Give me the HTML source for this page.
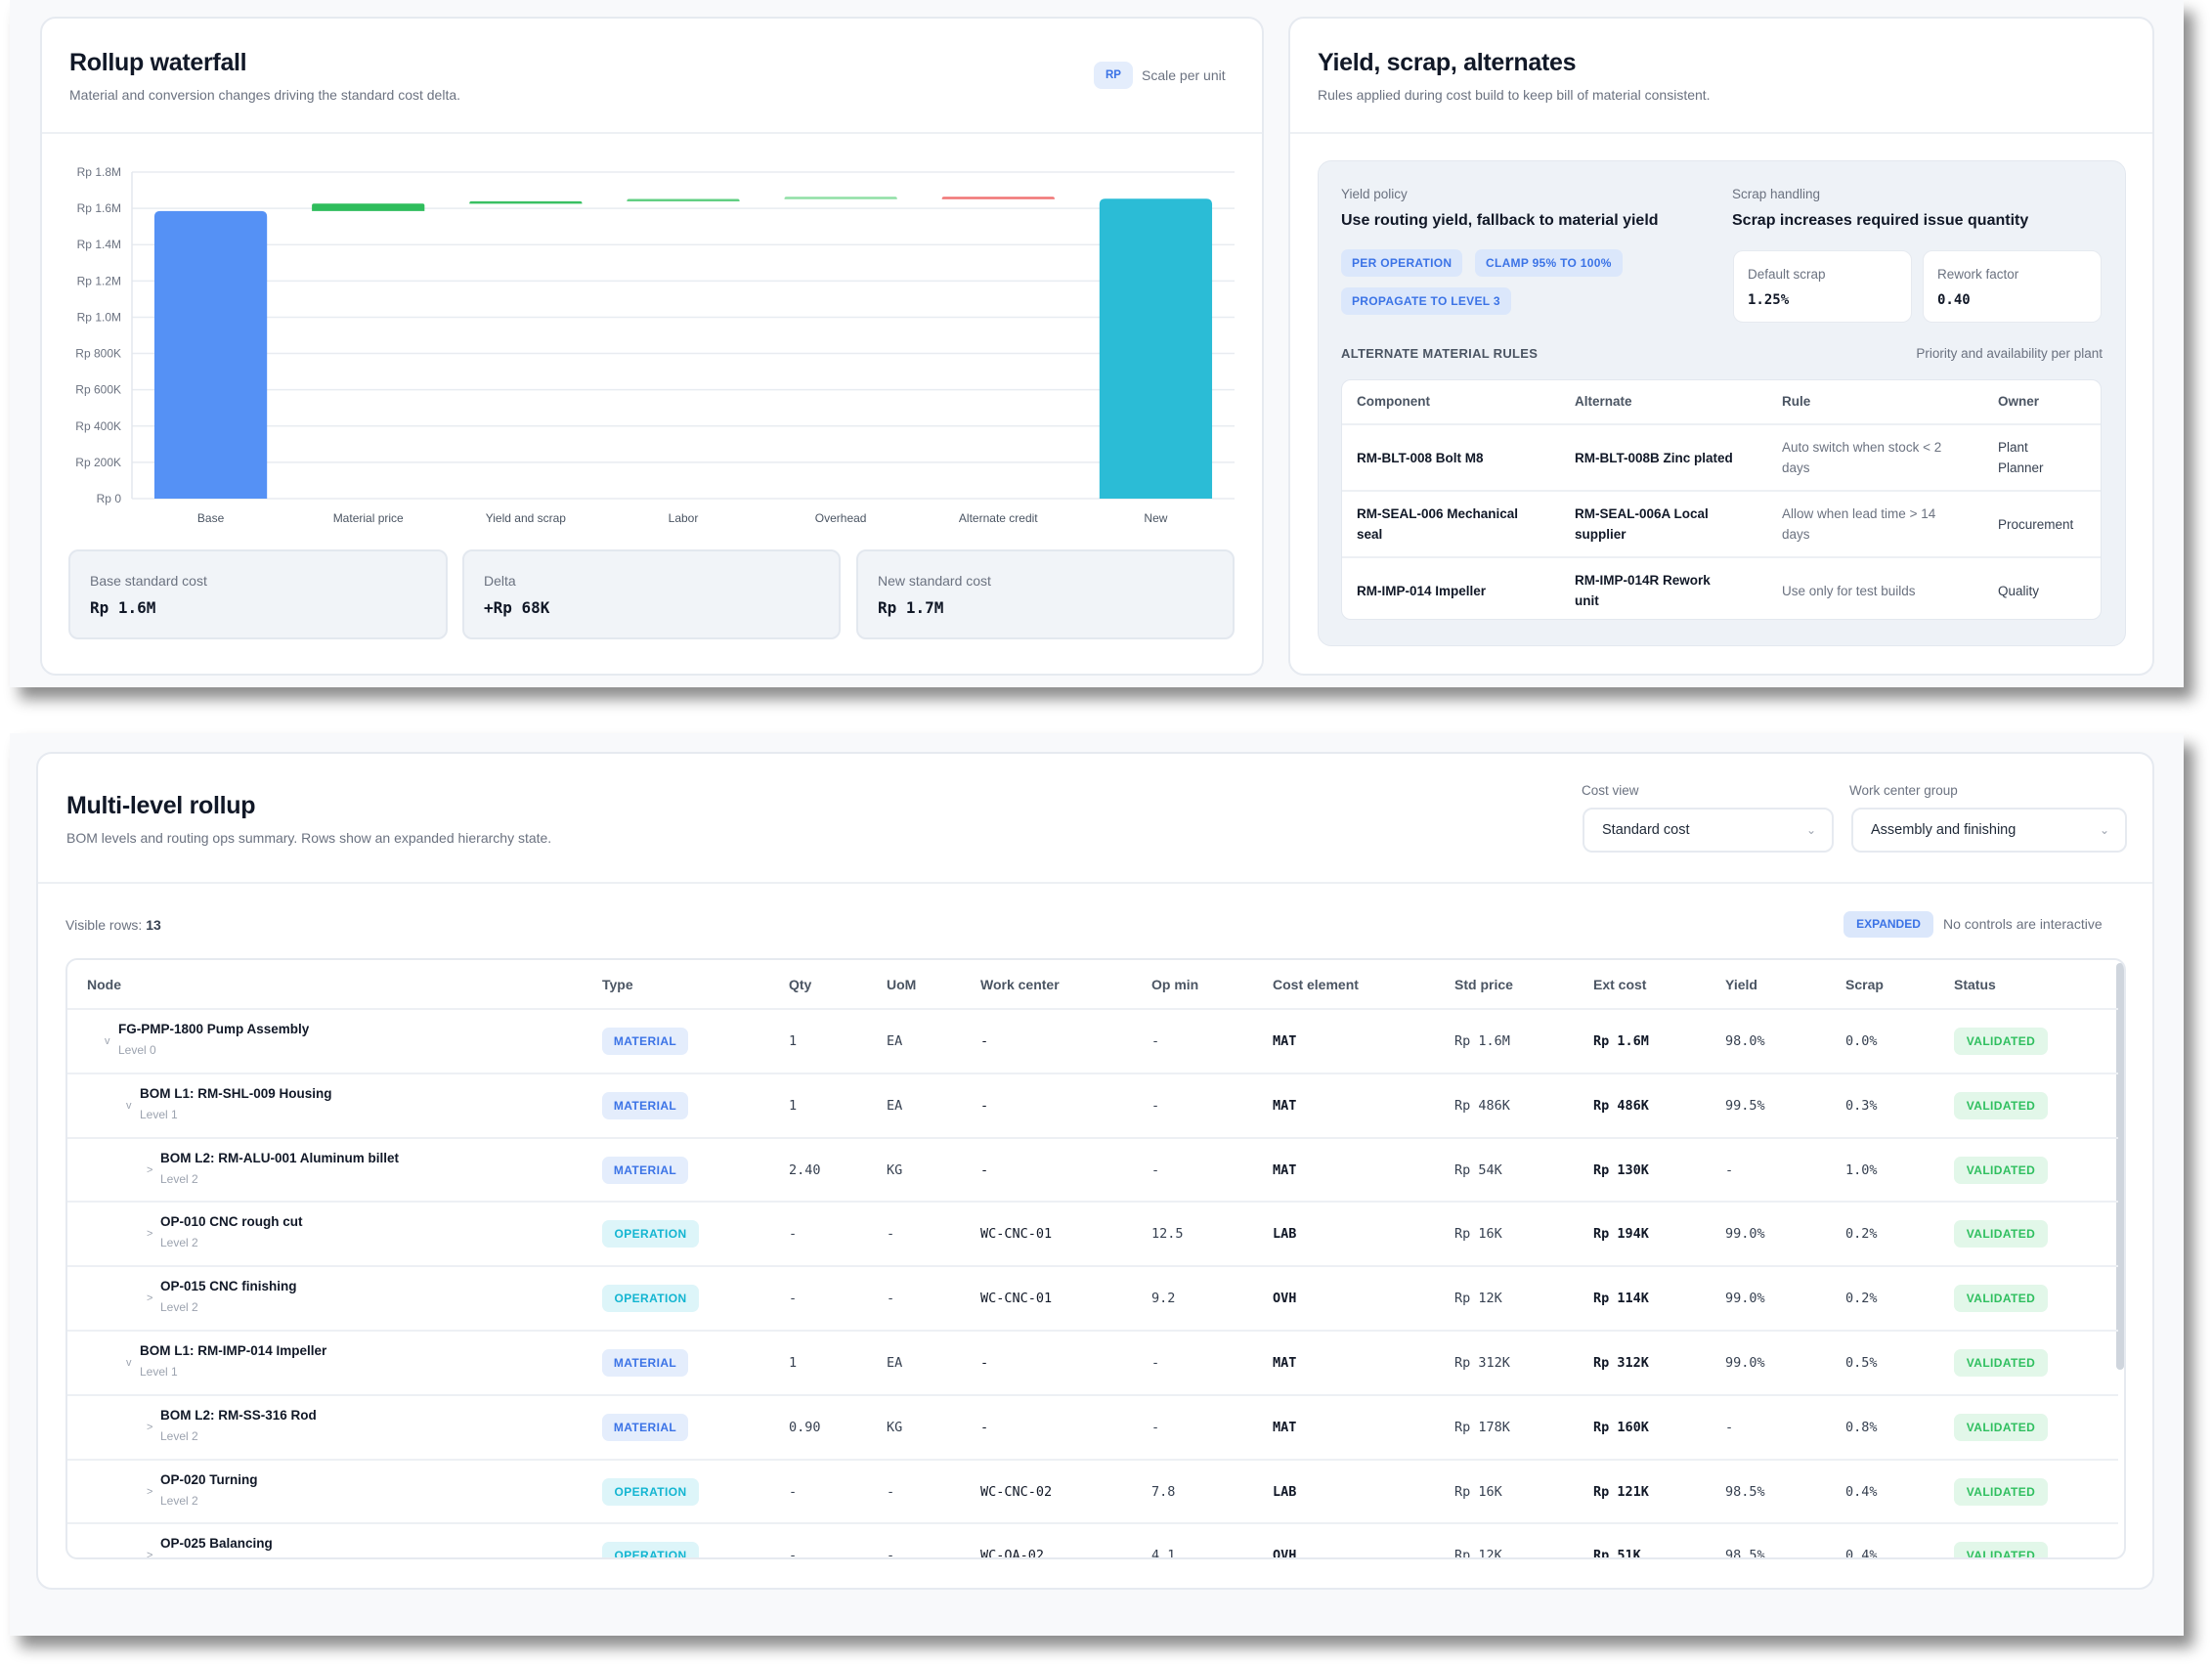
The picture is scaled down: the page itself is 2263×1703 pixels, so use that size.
<!DOCTYPE html>
<html><head><meta charset="utf-8"><style>
*{box-sizing:border-box;margin:0;padding:0}
body{width:2263px;height:1703px;background:#fff;position:relative;overflow:hidden;font-family:"Liberation Sans",sans-serif;color:#111827}
.panel{position:absolute;background:#f8f9fb;box-shadow:10px 12px 14px rgba(0,0,0,.45)}
.card{position:absolute;background:#fff;border:2px solid #e6eaf0;border-radius:16px}
.abs{position:absolute;white-space:nowrap}
.title{font-size:25px;font-weight:700;letter-spacing:-.3px}
.sub{font-size:14px;color:#6b7280}
.mono{font-family:"DejaVu Sans Mono","Liberation Mono",monospace}
.sumbox{position:absolute;top:562px;height:92px;background:#f1f4f8;border:2px solid #e3e8ef;border-radius:10px}
.sumbox .l{position:absolute;left:20px;top:22px;font-size:14px;color:#6b7280}
.sumbox .v{position:absolute;left:20px;top:48px;font-size:16px;font-weight:700}
.chip{position:absolute;height:28px;line-height:28px;background:#dbe7fb;color:#3b73e6;font-weight:700;font-size:12px;border-radius:7px;padding:0 11px;letter-spacing:.3px}
.wbox{position:absolute;top:256px;width:183px;height:74px;background:#fff;border-radius:10px;border:1px solid #e6eaf0}
.wbox .l{position:absolute;left:14px;top:16px;font-size:13.5px;color:#6b7280}
.wbox .v{position:absolute;left:14px;top:42px;font-size:14px;font-weight:700}
.at{position:absolute;font-size:13.5px;line-height:21px;white-space:normal}
.sel{position:absolute;top:826px;height:46px;border:2px solid #e6eaf0;border-radius:10px;background:#fff;font-size:14.5px;line-height:42px;padding-left:18px;color:#1f2937}
.sel span{position:absolute;right:16px;top:0;color:#9ca3af;font-size:12px}
.th{position:absolute;top:17px;font-size:14px;color:#4b5563;font-weight:700}
.row{position:absolute;left:0;width:2098px;height:66px;border-top:2px solid #edf0f4}
.cell{position:absolute;top:0;height:64px;line-height:64px;font-size:13.5px;white-space:nowrap}
.pill{position:absolute;top:18px;height:28px;line-height:28px;border-radius:7px;font-size:12px;font-weight:700;text-align:center;letter-spacing:.4px}
</style></head><body>

<div class="panel" style="left:10px;top:0;width:2224px;height:703px"></div>
<div class="panel" style="left:10px;top:750px;width:2224px;height:923px"></div>

<!-- Card 1 -->
<div class="card" style="left:41px;top:17px;width:1252px;height:674px">
  <div class="abs title" style="left:28px;top:31px">Rollup waterfall</div>
  <div class="abs sub" style="left:28px;top:70px">Material and conversion changes driving the standard cost delta.</div>
  <div class="abs" style="left:1076px;top:44px;width:40px;height:28px;background:#e4edfc;border-radius:8px;color:#3b73e6;font-size:11.5px;font-weight:700;text-align:center;line-height:28px">RP</div>
  <div class="abs sub" style="left:1125px;top:50px;font-size:14px">Scale per unit</div>
  <div class="abs" style="left:0;top:116px;width:1248px;height:2px;background:#edf0f4"></div>
</div>
<svg id="wf" style="position:absolute;left:0;top:0" width="1300" height="560"></svg>
<div class="sumbox" style="left:70px;width:388px"><div class="l">Base standard cost</div><div class="v mono">Rp 1.6M</div></div>
<div class="sumbox" style="left:473px;width:387px"><div class="l">Delta</div><div class="v mono">+Rp 68K</div></div>
<div class="sumbox" style="left:876px;width:387px"><div class="l">New standard cost</div><div class="v mono">Rp 1.7M</div></div>

<!-- Card 2 -->
<div class="card" style="left:1318px;top:17px;width:886px;height:674px">
  <div class="abs title" style="left:28px;top:31px">Yield, scrap, alternates</div>
  <div class="abs sub" style="left:28px;top:70px">Rules applied during cost build to keep bill of material consistent.</div>
  <div class="abs" style="left:0;top:116px;width:882px;height:2px;background:#edf0f4"></div>
</div>
<div class="abs" style="left:1348px;top:164px;width:827px;height:497px;background:#eef2f7;border-radius:14px;border:1px solid #e3e8ef"></div>
<div class="abs sub" style="left:1372px;top:191px;font-size:13.5px">Yield policy</div>
<div class="abs" style="left:1372px;top:217px;font-size:16px;font-weight:700">Use routing yield, fallback to material yield</div>
<div class="chip" style="left:1372px;top:255px">PER OPERATION</div>
<div class="chip" style="left:1509px;top:255px">CLAMP 95% TO 100%</div>
<div class="chip" style="left:1372px;top:294px">PROPAGATE TO LEVEL 3</div>
<div class="abs sub" style="left:1772px;top:191px;font-size:13.5px">Scrap handling</div>
<div class="abs" style="left:1772px;top:217px;font-size:16px;font-weight:700">Scrap increases required issue quantity</div>
<div class="wbox" style="left:1773px"><div class="l">Default scrap</div><div class="v mono">1.25%</div></div>
<div class="wbox" style="left:1967px"><div class="l">Rework factor</div><div class="v mono">0.40</div></div>
<div class="abs" style="left:1372px;top:354px;font-size:13px;font-weight:700;color:#4b5563;letter-spacing:.3px">ALTERNATE MATERIAL RULES</div>
<div class="abs sub" style="left:1922px;top:354px;font-size:13.5px;width:229px;text-align:right">Priority and availability per plant</div>
<div class="abs" style="left:1372px;top:388px;width:778px;height:246px;background:#fff;border-radius:10px;border:1px solid #e3e8ef">
  <div class="at" style="left:15px;top:11px;color:#4b5563;font-weight:700">Component</div>
  <div class="at" style="left:238px;top:11px;color:#4b5563;font-weight:700">Alternate</div>
  <div class="at" style="left:450px;top:11px;color:#4b5563;font-weight:700">Rule</div>
  <div class="at" style="left:671px;top:11px;color:#4b5563;font-weight:700">Owner</div>
  <div class="abs" style="left:0;top:44px;width:776px;height:2px;background:#edf0f4"></div>
  <div class="abs" style="left:0;top:112px;width:776px;height:2px;background:#edf0f4"></div>
  <div class="abs" style="left:0;top:180px;width:776px;height:2px;background:#edf0f4"></div>
  <div class="at" style="left:15px;top:69px;font-weight:700;white-space:nowrap">RM-BLT-008 Bolt M8</div>
  <div class="at" style="left:238px;top:69px;font-weight:700;white-space:nowrap">RM-BLT-008B Zinc plated</div>
  <div class="at" style="left:450px;top:58px;color:#6b7280;width:168px">Auto switch when stock &lt; 2 days</div>
  <div class="at" style="left:671px;top:58px;color:#374151;width:60px">Plant Planner</div>
  <div class="at" style="left:15px;top:126px;font-weight:700;width:185px">RM-SEAL-006 Mechanical seal</div>
  <div class="at" style="left:238px;top:126px;font-weight:700;width:168px">RM-SEAL-006A Local supplier</div>
  <div class="at" style="left:450px;top:126px;color:#6b7280;width:165px">Allow when lead time &gt; 14 days</div>
  <div class="at" style="left:671px;top:137px;color:#374151">Procurement</div>
  <div class="at" style="left:15px;top:205px;font-weight:700;white-space:nowrap">RM-IMP-014 Impeller</div>
  <div class="at" style="left:238px;top:194px;font-weight:700;width:140px">RM-IMP-014R Rework unit</div>
  <div class="at" style="left:450px;top:205px;color:#6b7280;white-space:nowrap">Use only for test builds</div>
  <div class="at" style="left:671px;top:205px;color:#374151">Quality</div>
</div>

<!-- Card 3 -->
<div class="card" style="left:37px;top:769px;width:2167px;height:857px">
  <div class="abs title" style="left:29px;top:39px">Multi-level rollup</div>
  <div class="abs sub" style="left:29px;top:78px">BOM levels and routing ops summary. Rows show an expanded hierarchy state.</div>
  <div class="abs" style="left:0;top:131px;width:2163px;height:2px;background:#edf0f4"></div>
</div>
<div class="abs sub" style="left:1618px;top:801px;font-size:13.5px">Cost view</div>
<div class="sel" style="left:1619px;width:257px">Standard cost<span>&#8964;</span></div>
<div class="abs sub" style="left:1892px;top:801px;font-size:13.5px">Work center group</div>
<div class="sel" style="left:1894px;width:282px">Assembly and finishing<span>&#8964;</span></div>
<div class="abs sub" style="left:67px;top:938px;font-size:14px">Visible rows: <b style="color:#374151">13</b></div>
<div class="abs" style="left:1886px;top:932px;width:92px;height:27px;line-height:27px;background:#dbe7fb;color:#3b73e6;font-weight:700;font-size:12px;border-radius:7px;text-align:center">EXPANDED</div>
<div class="abs sub" style="left:1988px;top:937px;font-size:14px">No controls are interactive</div>
<div id="tbl" class="abs" style="left:67px;top:980px;width:2108px;height:615px;border:2px solid #e6eaf0;border-radius:12px;overflow:hidden;background:#fff">
  <div class="abs" style="left:2096px;top:3px;width:8px;height:416px;background:#cfd5dd;border-radius:4px"></div>
</div>

<script>
// ---- Waterfall data ----
const categories = ["Base","Material price","Yield and scrap","Labor","Overhead","Alternate credit","New"];
const baseValue = 1585000;
const deltaValues = [41000,13000,13000,12000,-11000];
const deltaColors = ["#2fbd5c","#39c063","#62cf83","#8fdfa5","#f07474"];
const yTicks = [0,200000,400000,600000,800000,1000000,1200000,1400000,1600000,1800000];
const yTickLabels = ["Rp 0","Rp 200K","Rp 400K","Rp 600K","Rp 800K","Rp 1.0M","Rp 1.2M","Rp 1.4M","Rp 1.6M","Rp 1.8M"];

const NS="http://www.w3.org/2000/svg";
const svg=document.getElementById('wf');
const X0=135,X1=1263,Y0=510,Y1=176,YMAX=1800000;
const band=(X1-X0)/categories.length, bw=band*0.715;
function y(v){return Y0-(v/YMAX)*(Y0-Y1);}
function xc(i){return X0+band*(i+0.5);}
function mk(tag,attrs){const e=document.createElementNS(NS,tag);for(const k in attrs)e.setAttribute(k,attrs[k]);svg.appendChild(e);return e;}
yTicks.forEach((t,i)=>{
  const g=mk('line',{x1:X0,x2:X1,y1:y(t),y2:y(t),stroke:'#e8ecf1','stroke-width':1.5});
  
  
  const tx=mk('text',{x:124,y:y(t)+4,'text-anchor':'end','font-size':12,fill:'#6b7280','font-family':'Liberation Sans, sans-serif'});
  tx.textContent=yTickLabels[i];
  
  
});
mk('line',{x1:X0,x2:X0,y1:Y1,y2:Y0,stroke:'#e3e7ed','stroke-width':1.5});
function bar(i,lo,hi,color,r){
  const top=y(Math.max(lo,hi)),bot=y(Math.min(lo,hi));
  const h=Math.max(bot-top,2.5),x=xc(i)-bw/2;
  const p=mk('path',{d:`M${x},${top+h} L${x},${top+r} Q${x},${top} ${x+r},${top} L${x+bw-r},${top} Q${x+bw},${top} ${x+bw},${top+r} L${x+bw},${top+h} Z`,fill:color});
  return p;
}
let b=bar(0,0,baseValue,'#5591f5',6);


let run=baseValue;
deltaValues.forEach((d,i)=>{
  const p=bar(i+1,run,run+d,deltaColors[i],2);
  
  
  run+=d;
});
b=bar(6,0,run,'#2bbcd6',6);


categories.forEach((c,i)=>{
  const t=mk('text',{x:xc(i),y:534,'text-anchor':'middle','font-size':12,fill:'#4b5563','font-family':'Liberation Sans, sans-serif'});
  t.textContent=c;
  
  
});

// ---- Table ----
const headers=["Node","Type","Qty","UoM","Work center","Op min","Cost element","Std price","Ext cost","Yield","Scrap","Status"];
const colX=[20,547,738,838,934,1109,1233,1419,1561,1696,1819,1930];
const rows=[
 ["FG-PMP-1800 Pump Assembly",0,"MATERIAL","1","EA","-","-","MAT","Rp 1.6M","Rp 1.6M","98.0%","0.0%"],
 ["BOM L1: RM-SHL-009 Housing",1,"MATERIAL","1","EA","-","-","MAT","Rp 486K","Rp 486K","99.5%","0.3%"],
 ["BOM L2: RM-ALU-001 Aluminum billet",2,"MATERIAL","2.40","KG","-","-","MAT","Rp 54K","Rp 130K","-","1.0%"],
 ["OP-010 CNC rough cut",2,"OPERATION","-","-","WC-CNC-01","12.5","LAB","Rp 16K","Rp 194K","99.0%","0.2%"],
 ["OP-015 CNC finishing",2,"OPERATION","-","-","WC-CNC-01","9.2","OVH","Rp 12K","Rp 114K","99.0%","0.2%"],
 ["BOM L1: RM-IMP-014 Impeller",1,"MATERIAL","1","EA","-","-","MAT","Rp 312K","Rp 312K","99.0%","0.5%"],
 ["BOM L2: RM-SS-316 Rod",2,"MATERIAL","0.90","KG","-","-","MAT","Rp 178K","Rp 160K","-","0.8%"],
 ["OP-020 Turning",2,"OPERATION","-","-","WC-CNC-02","7.8","LAB","Rp 16K","Rp 121K","98.5%","0.4%"],
 ["OP-025 Balancing",2,"OPERATION","-","-","WC-QA-02","4.1","OVH","Rp 12K","Rp 51K","98.5%","0.4%"]
];
const tbl=document.getElementById('tbl');
headers.forEach((h,i)=>{
  const d=document.createElement('div');
  d.className='th';d.style.left=colX[i]+'px';d.textContent=h;
  
  
  tbl.appendChild(d);
});
rows.forEach((r,ri)=>{
  const row=document.createElement('div');
  row.className='row';row.style.top=(49+ri*65.8)+'px';
  
  
  const lvl=r[1];const ind=[0,22,43][lvl];
  const chev=document.createElement('div');
  chev.className='abs';chev.style.cssText=`left:${38+ind}px;top:26px;font-size:11px;color:#9ca3af`;
  chev.textContent=lvl<2?'v':'>';
  
  
  row.appendChild(chev);
  const nm=document.createElement('div');
  nm.className='abs';nm.style.cssText=`left:${52+ind}px;top:12px;font-size:13.5px;font-weight:700`;
  nm.textContent=r[0];
  
  
  row.appendChild(nm);
  const lv=document.createElement('div');
  lv.className='abs';lv.style.cssText=`left:${52+ind}px;top:34px;font-size:12px;color:#9ca3af`;
  lv.textContent='Level '+lvl;
  
  
  row.appendChild(lv);
  const isMat=r[2]==='MATERIAL';
  const tp=document.createElement('div');
  tp.className='pill';tp.style.cssText=`left:${colX[1]}px;width:${isMat?88:99}px;background:${isMat?'#e4edfc':'#ddf5f9'};color:${isMat?'#3b73e6':'#13b5d1'}`;
  tp.textContent=r[2];
  
  
  row.appendChild(tp);
  for(let c=3;c<12;c++){
    const d=document.createElement('div');
    d.className='cell mono';d.style.left=colX[c-1]+'px';
    d.style.color=(c===5||c===7||c===9)?'#111827':'#374151';
    if(c===7||c===9)d.style.fontWeight='700';
    d.textContent=r[c];
    
    
    row.appendChild(d);
  }
  const st=document.createElement('div');
  st.className='pill';st.style.cssText=`left:${colX[11]}px;width:96px;background:#e2f7e9;color:#2fbf5f`;
  st.textContent='VALIDATED';
  
  
  row.appendChild(st);
  tbl.appendChild(row);
});
</script>
</body></html>
